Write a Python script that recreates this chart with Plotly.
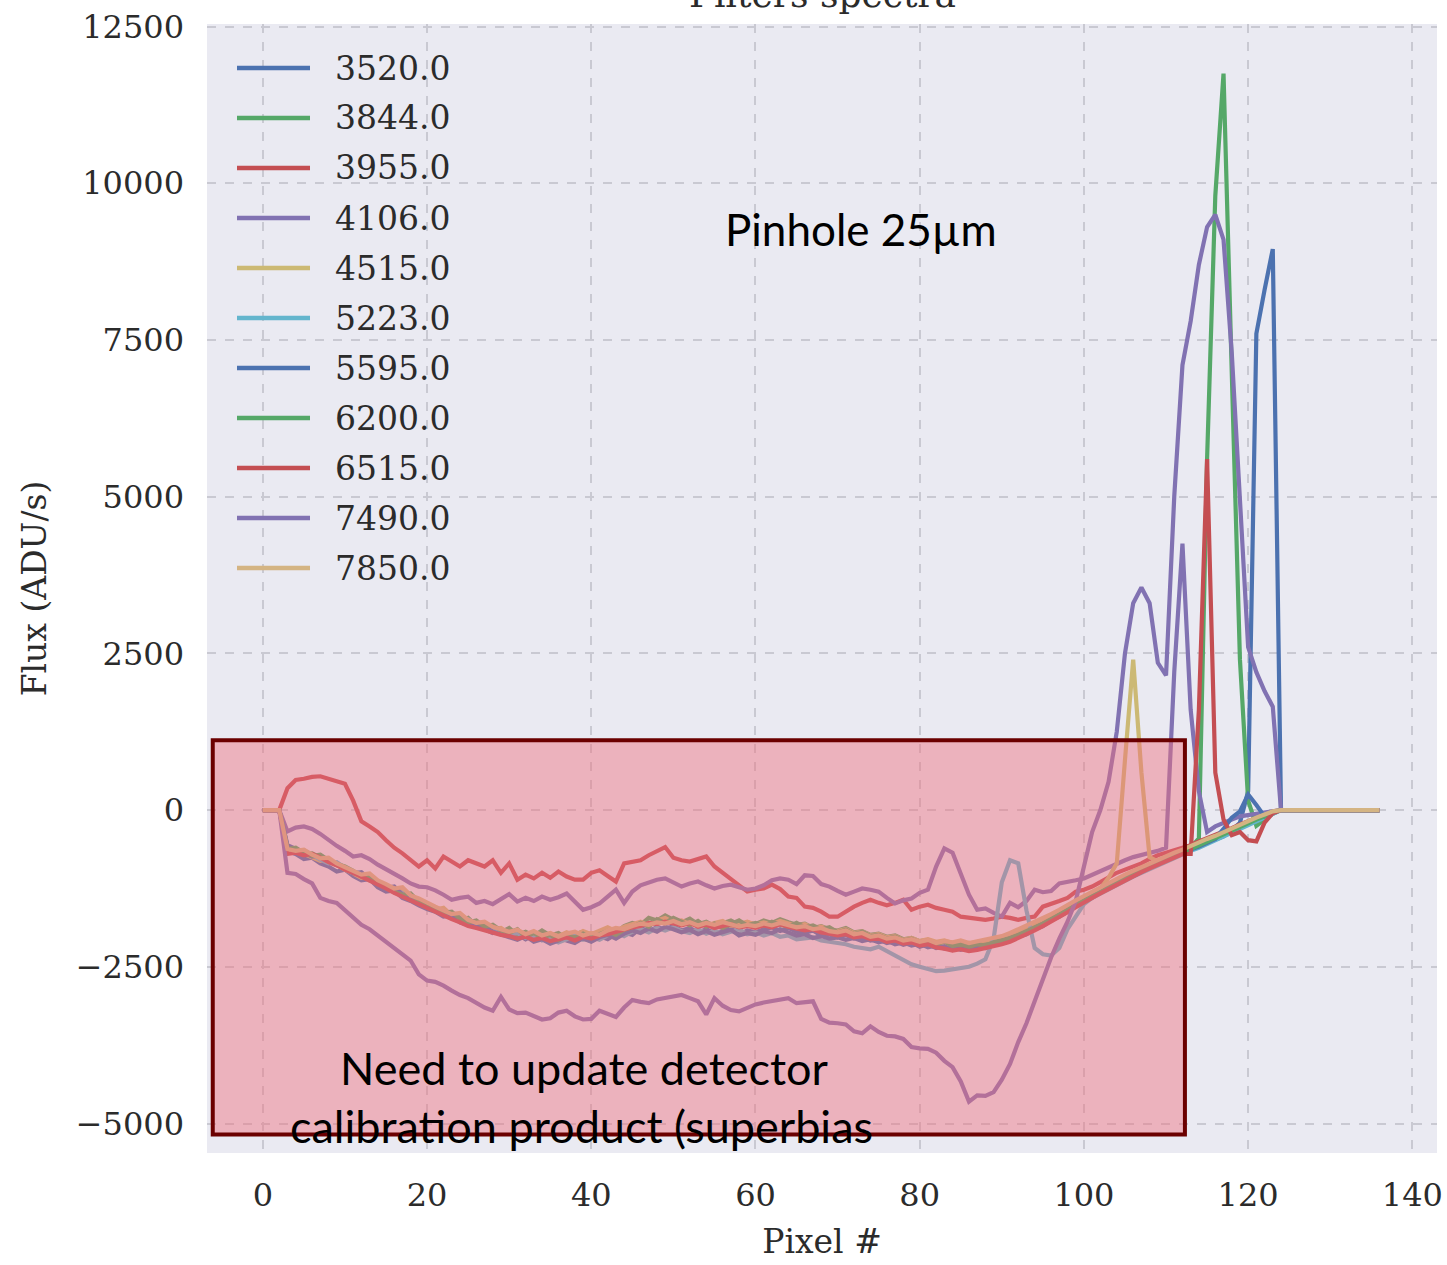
import plotly.graph_objects as go

# pixel index (x axis)
pixels = list(range(137))

labels = ["3520.0", "3844.0", "3955.0", "4106.0", "4515.0", "5223.0",
          "5595.0", "6200.0", "6515.0", "7490.0", "7850.0"]
colors = ["#4C72B0", "#55A868", "#C44E52", "#8172B2", "#CCB974", "#64B5CD",
          "#4C72B0", "#55A868", "#C44E52", "#8172B2", "#D4B483"]

y_ticks = [-5000, -2500, 0, 2500, 5000, 7500, 10000, 12500]
y_ticktext = ["\u22125000", "\u22122500", "0", "2500", "5000", "7500", "10000", "12500"]
x_ticks = [0, 20, 40, 60, 80, 100, 120, 140]

ZERO_TAIL = [0] * 13

f3520 = [0, 0, 0, -650, -700, -780, -760, -850, -900, -980,
         -950, -1050, -1120, -1100, -1230, -1300, -1280, -1400, -1450, -1520,
         -1580, -1620, -1700, -1680, -1790, -1830, -1800, -1900, -1960, -1920,
         -2000, -1980, -2060, -1990, -2050, -2100, -2000, -2080, -2120, -2040,
         -2090, -2010, -2060, -1980, -1950, -1990, -1880, -1930, -1870, -1900,
         -1850, -1920, -1880, -1950, -1900, -1960, -1930, -1880, -1990, -1920,
         -1950, -1900, -1870, -1930, -1880, -1940, -1960, -1920, -2000, -1980,
         -2030, -1990, -2050, -2020, -2080, -2060, -2120, -2090, -2150, -2110,
         -2180, -2140, -2200, -2170, -2230, -2190, -2210, -2180, -2200, -2150,
         -2120, -2080, -2020, -1980, -1900, -1850, -1760, -1700, -1620, -1540,
         -1460, -1400, -1310, -1250, -1170, -1100, -1040, -980, -910, -850,
         -800, -740, -690, -640, -580, -520, -470, -420, -330, -200,
         300, 7600, 8300, 8950] + ZERO_TAIL

f3844 = [0, 0, 0, -580, -640, -700, -690, -760, -820, -880,
         -930, -990, -1010, -1120, -1150, -1240, -1310, -1290, -1420, -1480,
         -1550, -1610, -1580, -1700, -1760, -1720, -1850, -1810, -1890, -1950,
         -1880, -1990, -1940, -2010, -1920, -2000, -1960, -2050, -1980, -1940,
         -2010, -1950, -1900, -1960, -1850, -1800, -1830, -1720, -1760, -1680,
         -1750, -1790, -1730, -1820, -1780, -1850, -1800, -1760, -1830, -1790,
         -1820, -1760, -1800, -1740, -1790, -1830, -1810, -1880, -1850, -1900,
         -1920, -1880, -1950, -1930, -1990, -1970, -2020, -2000, -2060, -2040,
         -2090, -2070, -2120, -2100, -2130, -2160, -2120, -2150, -2110, -2090,
         -2060, -2010, -1970, -1900, -1860, -1790, -1720, -1640, -1570, -1490,
         -1410, -1350, -1280, -1200, -1140, -1070, -1000, -950, -880, -820,
         -770, -710, -660, -600, -450, 5600, 9800, 11750, 7000, 2400,
         150, -250, -150, -60] + ZERO_TAIL

f3955 = [0, 0, 0, 350, 480, 500, 530, 540, 500, 470,
         420, 150, -180, -260, -350, -480, -600, -690, -800, -900,
         -800, -930, -740, -820, -900, -800, -850, -900, -800, -1000,
         -850, -1110, -1030, -1090, -1000, -1080, -980, -1060, -1110, -1110,
         -1000, -960, -1050, -1140, -850, -830, -800, -720, -650, -590,
         -760, -800, -820, -780, -740, -900, -1000, -1080, -1180, -1300,
         -1270, -1250, -1190, -1260, -1380, -1400, -1540, -1560, -1620, -1700,
         -1700, -1620, -1540, -1480, -1430, -1480, -1520, -1480, -1430, -1590,
         -1540, -1510, -1560, -1590, -1620, -1700, -1720, -1740, -1750, -1730,
         -1700, -1720, -1750, -1720, -1700, -1540, -1500, -1450, -1400, -1300,
         -1270, -1220, -1150, -1080, -1000, -950, -900, -850, -780, -720,
         -680, -640, -600, -560, -500, -450, -400, -340, -290, -230,
         -180, -120, -70, -20] + ZERO_TAIL

f4106 = [0, 0, 0, -340, -280, -260, -300, -380, -480, -570,
         -650, -740, -720, -780, -870, -940, -1020, -1090, -1170, -1220,
         -1230, -1280, -1350, -1430, -1400, -1380, -1480, -1450, -1500, -1420,
         -1340, -1460, -1400, -1450, -1380, -1430, -1390, -1330, -1450, -1590,
         -1550, -1490, -1380, -1270, -1480, -1300, -1200, -1150, -1110, -1090,
         -1150, -1220, -1170, -1140, -1200, -1250, -1210, -1190, -1230, -1270,
         -1250, -1200, -1120, -1090, -1110, -1180, -1040, -1050, -1180, -1220,
         -1290, -1350, -1300, -1250, -1270, -1300, -1400, -1490, -1440, -1410,
         -1320, -1270, -900, -610, -680, -1000, -1350, -1590, -1570, -1640,
         -1700, -1480, -1550, -1450, -1270, -1310, -1290, -1170, -1150, -1120,
         -1090, -1030, -980, -920, -850, -800, -750, -720, -690, -650,
         -600, 2200, 4250, 1600, 300, -350, -260, -200, -150, -100,
         -80, -50, -30, -10] + ZERO_TAIL

f4515 = [0, 0, 0, -640, -610, -700, -750, -810, -790, -880,
         -950, -1010, -1080, -1060, -1170, -1230, -1290, -1270, -1400, -1460,
         -1530, -1590, -1560, -1680, -1740, -1790, -1770, -1870, -1900, -1880,
         -1970, -1920, -2000, -1950, -2020, -1970, -2010, -1950, -2000, -1930,
         -1980, -1920, -1870, -1930, -1860, -1820, -1780, -1840, -1760, -1720,
         -1790, -1760, -1820, -1780, -1840, -1800, -1770, -1850, -1810, -1780,
         -1830, -1790, -1820, -1770, -1810, -1850, -1820, -1880, -1860, -1910,
         -1930, -1900, -1960, -1940, -2000, -1980, -2030, -2010, -2070, -2040,
         -2090, -2060, -2100, -2080, -2120, -2090, -2130, -2100, -2080, -2060,
         -2030, -1980, -1930, -1870, -1820, -1750, -1690, -1610, -1540, -1460,
         -1390, -1320, -1250, -1080, -850, 800, 2400, 600, -750, -820,
         -760, -700, -650, -590, -530, -480, -420, -370, -310, -250,
         -190, -130, -80, -30] + ZERO_TAIL

f5223 = [0, 0, 0, -600, -660, -640, -720, -790, -850, -830,
         -920, -980, -1050, -1080, -1140, -1210, -1260, -1330, -1390, -1440,
         -1510, -1570, -1620, -1690, -1750, -1740, -1830, -1880, -1860, -1950,
         -1990, -1960, -2040, -2000, -2080, -2030, -2110, -2060, -2000, -2070,
         -2030, -2070, -2000, -1950, -2010, -1940, -1900, -1950, -1880, -1920,
         -1870, -1930, -1960, -1900, -1970, -1920, -1980, -1940, -1900, -1980,
         -1950, -2000, -1960, -2020, -2000, -2060, -2040, -2030, -2080, -2100,
         -2110, -2140, -2180, -2200, -2220, -2180, -2250, -2330, -2400, -2460,
         -2500, -2540, -2570, -2560, -2540, -2520, -2500, -2450, -2380, -2050,
         -1150, -800, -850, -1600, -2200, -2300, -2320, -2200, -1900, -1700,
         -1500, -1400, -1330, -1260, -1200, -1130, -1060, -1000, -940, -880,
         -820, -760, -710, -650, -600, -540, -480, -420, -360, -300,
         -240, -170, -110, -50] + ZERO_TAIL

f5595 = [0, 0, 0, -560, -620, -690, -740, -720, -810, -870,
         -940, -1010, -990, -1100, -1170, -1240, -1220, -1350, -1420, -1480,
         -1540, -1600, -1670, -1720, -1700, -1810, -1870, -1850, -1940, -1980,
         -2020, -2070, -2010, -2100, -2060, -2130, -2080, -2010, -2090, -2050,
         -2100, -2030, -1990, -2050, -1970, -1920, -1960, -1890, -1940, -1860,
         -1900, -1950, -1910, -1980, -1930, -1990, -1950, -1910, -2000, -1960,
         -1990, -1930, -1960, -1900, -1950, -2000, -1980, -2040, -2010, -2050,
         -2030, -2070, -2040, -2090, -2060, -2110, -2080, -2140, -2110, -2160,
         -2130, -2190, -2160, -2210, -2180, -2230, -2200, -2170, -2190, -2140,
         -2100, -2050, -2000, -1950, -1880, -1820, -1750, -1680, -1600, -1520,
         -1450, -1380, -1320, -1240, -1180, -1110, -1050, -990, -920, -860,
         -800, -750, -690, -630, -580, -520, -460, -300, -120, -20,
         250, 80, -100, -30] + ZERO_TAIL

f6200 = [0, 0, 0, -620, -600, -680, -730, -710, -800, -860,
         -900, -970, -1060, -1030, -1180, -1220, -1300, -1350, -1330, -1460,
         -1520, -1580, -1640, -1620, -1730, -1790, -1760, -1860, -1830, -1920,
         -1960, -1900, -2020, -1960, -2040, -1990, -2070, -2000, -2030, -1970,
         -2040, -1980, -1930, -1990, -1910, -1870, -1800, -1860, -1740, -1800,
         -1720, -1780, -1840, -1770, -1860, -1810, -1880, -1820, -1760, -1840,
         -1800, -1850, -1780, -1830, -1860, -1800, -1870, -1840, -1900, -1870,
         -1950, -1910, -1980, -1940, -2010, -1990, -2050, -2020, -2080, -2050,
         -2110, -2080, -2140, -2100, -2170, -2140, -2180, -2140, -2160, -2110,
         -2080, -2040, -1990, -1930, -1880, -1810, -1740, -1670, -1590, -1510,
         -1440, -1370, -1300, -1230, -1160, -1090, -1030, -960, -900, -840,
         -790, -730, -680, -620, -560, -500, -440, -390, -330, -270,
         -210, -150, -100, -40] + ZERO_TAIL

f6515 = [0, 0, 0, -700, -680, -720, -700, -760, -830, -880,
         -950, -1000, -1060, -1130, -1190, -1250, -1320, -1380, -1440, -1500,
         -1560, -1630, -1680, -1740, -1790, -1850, -1880, -1920, -1960, -1990,
         -2010, -2050, -2020, -2070, -2040, -2090, -2060, -2030, -2080, -2020,
         -2050, -2000, -1980, -1940, -1900, -1870, -1850, -1800, -1820, -1780,
         -1810, -1840, -1800, -1860, -1830, -1880, -1850, -1820, -1870, -1850,
         -1880, -1840, -1870, -1820, -1860, -1890, -1920, -1900, -1950, -1970,
         -2000, -1980, -2030, -2010, -2060, -2050, -2100, -2080, -2130, -2110,
         -2160, -2140, -2190, -2210, -2240, -2220, -2250, -2230, -2200, -2180,
         -2140, -2100, -2040, -1990, -1920, -1850, -1780, -1700, -1630, -1550,
         -1470, -1400, -1330, -1260, -1190, -1120, -1060, -990, -930, -870,
         -820, -760, -700, -700, 1600, 5600, 600, -150, -400, -350,
         -480, -500, -200, -50] + ZERO_TAIL

f7490 = [0, 0, 0, -1000, -1020, -1100, -1170, -1400, -1450, -1480,
         -1600, -1720, -1830, -1900, -2000, -2100, -2200, -2300, -2400, -2620,
         -2720, -2740, -2800, -2880, -2950, -3000, -3070, -3150, -3200, -2980,
         -3180, -3240, -3230, -3280, -3340, -3320, -3230, -3200, -3290, -3340,
         -3330, -3200, -3250, -3300, -3150, -3030, -3060, -3080, -3020, -3000,
         -2980, -2950, -3000, -3050, -3260, -3000, -3120, -3190, -3210, -3150,
         -3100, -3070, -3050, -3020, -3000, -3080, -3070, -3050, -3330, -3390,
         -3400, -3420, -3530, -3560, -3450, -3540, -3600, -3610, -3650, -3780,
         -3800, -3810, -3870, -4000, -4100, -4330, -4650, -4550, -4560, -4500,
         -4300, -4050, -3700, -3400, -3050, -2700, -2350, -2050, -1780, -1450,
         -900, -350, 0, 450, 1250, 2500, 3300, 3550, 3300, 2350,
         2150, 5000, 7100, 7800, 8700, 9300, 9500, 9100, 7300, 4800,
         2600, 2200, 1900, 1650] + ZERO_TAIL

f7850 = [0, 0, 0, -620, -650, -630, -710, -770, -760, -850,
         -910, -970, -1030, -1010, -1120, -1180, -1250, -1230, -1360, -1410,
         -1480, -1540, -1600, -1660, -1640, -1750, -1800, -1780, -1860, -1900,
         -1940, -1910, -1980, -1930, -2000, -1960, -2020, -1970, -1940, -2000,
         -1960, -1990, -1920, -1880, -1900, -1850, -1810, -1830, -1790, -1810,
         -1770, -1820, -1790, -1840, -1800, -1830, -1790, -1820, -1860, -1830,
         -1850, -1810, -1840, -1800, -1830, -1870, -1850, -1900, -1880, -1930,
         -1950, -1920, -1980, -1960, -2020, -2000, -2050, -2030, -2080, -2060,
         -2100, -2070, -2120, -2090, -2110, -2080, -2120, -2090, -2070, -2040,
         -2010, -1960, -1900, -1850, -1790, -1720, -1660, -1590, -1510, -1440,
         -1370, -1300, -1230, -1160, -1100, -1030, -970, -910, -850, -790,
         -740, -680, -630, -570, -520, -460, -410, -350, -300, -240,
         -180, -120, -70, -20] + ZERO_TAIL

series = [f3520, f3844, f3955, f4106, f4515, f5223, f5595, f6200, f6515, f7490, f7850]

SERIF = "DejaVu Serif"
TXT = "#2b2b2b"

fig = go.Figure()
for name, col, vals in zip(labels, colors, series):
    fig.add_trace(go.Scatter(x=pixels, y=vals, mode="lines", name=name,
                             line=dict(color=col, width=4.2), showlegend=False))

# plot area in px (for legend placement)
L, R, T, B = 207, 1437, 24, 1153
W, H = R - L, B - T

shapes = []
annotations = []
for i, (name, col) in enumerate(zip(labels, colors)):
    ypx = 68 + 50 * i
    yp = (B - ypx) / H
    shapes.append(dict(type="line", xref="paper", yref="paper",
                       x0=(237 - L) / W, x1=(310 - L) / W, y0=yp, y1=yp,
                       line=dict(color=col, width=4.5)))
    annotations.append(dict(xref="paper", yref="paper", x=(333 - L) / W, y=yp,
                            text=name, showarrow=False, xanchor="left", yanchor="middle",
                            font=dict(family=SERIF, size=33, color=TXT)))

# highlighted region
shapes.append(dict(type="rect", xref="x", yref="y", x0=-6.1, x1=112.3, y0=-5175, y1=1115,
                   fillcolor="rgba(240,110,125,0.45)", line=dict(color="#6B0000", width=4),
                   layer="above"))

annotations += [
    dict(xref="x", yref="y", x=72.8, y=9270, text="Pinhole 25µm", showarrow=False,
         font=dict(family="Lato", size=44, color="black")),
    dict(xref="x", yref="y", x=39.1, y=-4110, text="Need to update detector", showarrow=False,
         font=dict(family="Lato", size=45, color="black")),
    dict(xref="x", yref="y", x=38.8, y=-5040, text="calibration product (superbias", showarrow=False,
         font=dict(family="Lato", size=45, color="black")),
    # title sits mostly above the top edge, as in the original
    dict(xref="paper", yref="paper", x=0.5, y=1, yshift=7, yanchor="bottom",
         text="Filters spectra", showarrow=False,
         font=dict(family=SERIF, size=36, color=TXT)),
]

axis_font = dict(family=SERIF, size=32, color=TXT)
grid = dict(showgrid=True, gridcolor="#c9c9d2", griddash="dash", gridwidth=1.5,
            zeroline=False, showline=False, ticks="", automargin=False)

fig.update_layout(
    width=1447, height=1265,
    margin=dict(l=L, r=1447 - R, t=T, b=1265 - B),
    paper_bgcolor="white", plot_bgcolor="#EAEAF2",
    shapes=shapes, annotations=annotations,
    xaxis=dict(range=[-6.8, 143.0], tickvals=x_ticks, ticklabelstandoff=20,
               tickfont=axis_font,
               title=dict(text="Pixel #", font=dict(family=SERIF, size=33, color=TXT), standoff=16),
               **grid),
    yaxis=dict(range=[-5470, 12540], tickvals=y_ticks, ticktext=y_ticktext,
               ticklabelstandoff=22, tickfont=axis_font,
               title=dict(text="Flux (ADU/s)", font=dict(family=SERIF, size=33, color=TXT), standoff=19),
               **grid),
)

# drop the browser's default page margin so the figure sits at the top-left corner
fig.write_html("out.html", config={"displayModeBar": False},
               post_script="document.body.style.margin='0px';")
